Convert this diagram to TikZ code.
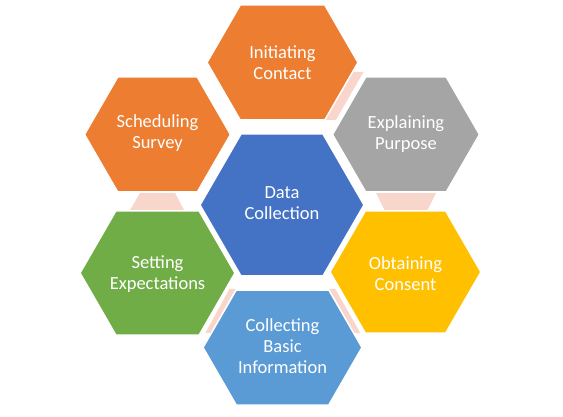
\documentclass[tikz,border=0pt]{standalone}
\usepackage{fontspec}
\setmainfont{Carlito}
\definecolor{hexorange}{HTML}{ED7D31}
\definecolor{hexgray}{HTML}{A5A5A5}
\definecolor{hexyellow}{HTML}{FFC000}
\definecolor{hexblue}{HTML}{4472C4}
\definecolor{hexgreen}{HTML}{70AD47}
\definecolor{hexlightblue}{HTML}{5B9BD5}
\definecolor{linkpink}{HTML}{F8D6CC}
% hexagon with pointed left/right ends: colour, cx, cy, half-width, half-height
\newcommand\hexcell[5]{%
  \pgfmathsetmacro\hexin{#5*0.57735}%
  \path[hexfill=#1] (#2-#4,#3) -- (#2-#4+\hexin,#3-#5) -- (#2+#4-\hexin,#3-#5)
    -- (#2+#4,#3) -- (#2+#4-\hexin,#3+#5) -- (#2-#4+\hexin,#3+#5) -- cycle;}
\tikzset{
  hexfill/.style={fill=#1, draw=white, line width=1.5pt, line join=miter},
  link/.style={fill=linkpink, draw=none},
  lbl/.style={text=white, align=center, inner sep=0pt,
    font=\fontsize{18.5}{21}\selectfont},
}
\begin{document}
\begin{tikzpicture}[x=1pt, y=-1pt]
\useasboundingbox (0,0) rectangle (563,417);
\fill[white] (0,0) rectangle (563,417);

% links between neighbouring outer cells
\path[link] (352.5,72) -- (363.5,72) -- (335.8,120) -- (324.8,120) -- cycle;
\path[link] (140,193) -- (175,193) -- (185,212) -- (129,212) -- cycle;
\path[link] (376,193) -- (436,193) -- (426.5,212) -- (385.5,212) -- cycle;
\path[link] (229.4,289) -- (235.4,289) -- (211.4,333) -- (205.4,333) -- cycle;
\path[link] (329.3,289) -- (335.3,289) -- (360.3,333) -- (354.3,333) -- cycle;

% outer cells
\hexcell{hexorange}{282.5}{62.5}{75.5}{57.5}
\hexcell{hexgray}{406}{134.5}{73.5}{57.5}
\hexcell{hexorange}{157.5}{134.5}{73}{57.5}
\hexcell{hexgreen}{157.5}{273}{77.5}{62}
\hexcell{hexyellow}{405.5}{272}{75.5}{61}
\hexcell{hexlightblue}{282.5}{347.5}{79.5}{57.5}
% centre cell
\hexcell{hexblue}{282}{205}{82}{71}

\node[lbl] (init)    at (282.5,62.5) {Initiating\\Contact};
\node[lbl] (explain) at (406,134.5)  {Explaining\\Purpose};
\node[lbl] (sched)   at (157.5,133)  {Scheduling\\Survey};
\node[lbl] (setexp)  at (157.5,274)  {Setting\\Expectations};
\node[lbl] (consent) at (405.5,274)  {Obtaining\\Consent};
\node[lbl] (collect) at (282.5,346)  {Collecting\\Basic\\Information};
\node[lbl] (data)    at (282,203)    {Data\\Collection};
\end{tikzpicture}
\end{document}
